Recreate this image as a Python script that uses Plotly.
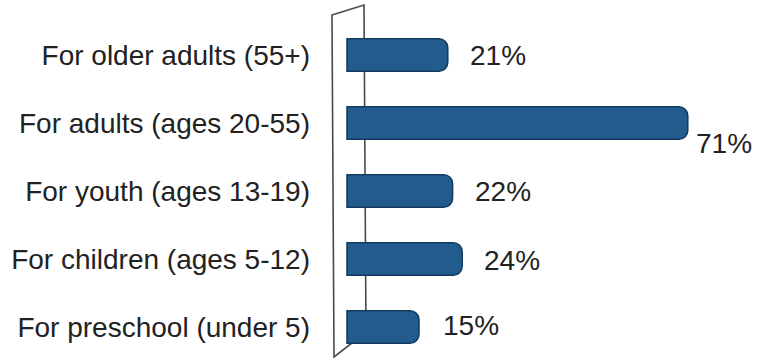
import plotly.graph_objects as go

# Survey shares by age group
categories = [
    "For older adults (55+)",
    "For adults (ages 20-55)",
    "For youth (ages 13-19)",
    "For children (ages 5-12)",
    "For preschool (under 5)",
]
values = [21, 71, 22, 24, 15]
value_labels = ["21%", "71%", "22%", "24%", "15%"]

W, H = 761, 358
L, R, T, B = 330, 0, 0, 0
plot_w = W - L - R
plot_h = H - T - B

# axis scaling: 4.8 px per percentage point, zero at x=347
px_per_unit = 4.8
zero_px = 347
x_range = [(L - zero_px) / px_per_unit, (W - R - zero_px) / px_per_unit]

# categories spaced 68 px, first centered at y=55
row_px = 68
first_px = 55
y_top = -first_px / row_px
y_bottom = y_top + plot_h / row_px

ypos = list(range(len(categories)))

BAR = "rgb(33,92,140)"
BAR_EDGE = "rgb(18,58,96)"
TEXT = "#222222"
FONT = "Liberation Sans, Arial, sans-serif"

fig = go.Figure()
fig.add_trace(go.Bar(
    x=values,
    y=ypos,
    orientation="h",
    width=0.48,
    marker=dict(color=BAR, line=dict(color=BAR_EDGE, width=1.5),
                cornerradius=9),
    hoverinfo="skip",
))


def to_paper(px, py):
    return (px - L) / plot_w, 1 - (py - T) / plot_h


# slanted back wall behind the bars
pts = [to_paper(332, 15), to_paper(364, 5), to_paper(366, 332), to_paper(334, 357)]
path = "M " + " L ".join(f"{x:.4f},{y:.4f}" for x, y in pts) + " Z"
fig.add_shape(type="path", path=path, xref="paper", yref="paper",
              line=dict(color="#4a4a4a", width=1.6), fillcolor="rgba(0,0,0,0)",
              layer="below")

# value labels at the bar ends; longer bars recede, pulling the label down and in
for v, y, lab in zip(values, ypos, value_labels):
    fig.add_annotation(x=v, y=y, text=lab, showarrow=False,
                       xanchor="left", yanchor="middle",
                       xshift=22 - 0.28 * (v - 15),
                       yshift=-0.4 * (v - 20),
                       font=dict(family=FONT, size=28, color=TEXT))

fig.update_layout(
    width=W, height=H,
    margin=dict(l=L, r=R, t=T, b=B, pad=0),
    paper_bgcolor="white", plot_bgcolor="rgba(0,0,0,0)",
    showlegend=False,
    xaxis=dict(range=x_range, visible=False, fixedrange=True),
    yaxis=dict(range=[y_bottom, y_top], tickvals=ypos, ticktext=categories,
               showgrid=False, zeroline=False, showline=False, ticks="",
               ticklabelstandoff=19,
               tickfont=dict(family=FONT, size=28, color=TEXT),
               fixedrange=True),
)

fig.write_html("out.html")
